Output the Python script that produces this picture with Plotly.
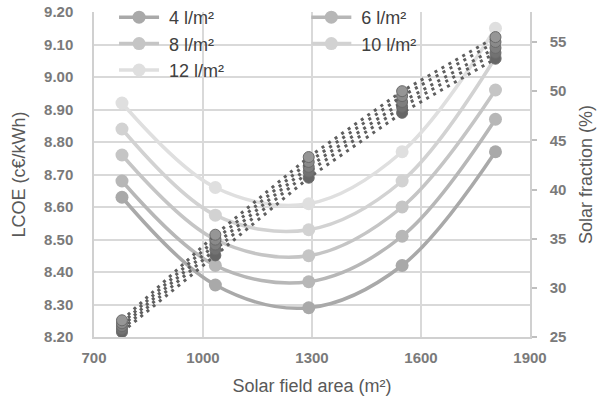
import plotly.graph_objects as go
from plotly.subplots import make_subplots

# ---- data ----
area = [777, 1034, 1291, 1548, 1805]
series_names = ["4 l/m²", "6 l/m²", "8 l/m²", "10 l/m²", "12 l/m²"]
lcoe_4 = [8.63, 8.36, 8.29, 8.42, 8.77]
lcoe_6 = [8.68, 8.42, 8.37, 8.51, 8.87]
lcoe_8 = [8.76, 8.50, 8.45, 8.60, 8.96]
lcoe_10 = [8.84, 8.575, 8.53, 8.68, 9.06]
lcoe_12 = [8.92, 8.66, 8.61, 8.77, 9.15]
sf_4 = [25.5, 33.3, 41.2, 47.8, 53.3]
sf_6 = [25.8, 33.9, 41.8, 48.4, 53.9]
sf_8 = [26.1, 34.4, 42.3, 48.9, 54.4]
sf_10 = [26.4, 34.9, 42.8, 49.5, 55.0]
sf_12 = [26.7, 35.4, 43.3, 50.0, 55.5]
x_ticks = [700, 1000, 1300, 1600, 1900]
lcoe_ticks = [8.2, 8.3, 8.4, 8.5, 8.6, 8.7, 8.8, 8.9, 9.0, 9.1, 9.2]
sf_ticks = [25, 30, 35, 40, 45, 50, 55]

lcoe_all = [lcoe_4, lcoe_6, lcoe_8, lcoe_10, lcoe_12]
sf_all = [sf_4, sf_6, sf_8, sf_10, sf_12]
line_colors = ["#a9a9a9", "#b7b7b7", "#c5c5c5", "#d2d2d2", "#dfdfdf"]
sf_colors = ["#666666", "#727272", "#7e7e7e", "#8a8a8a", "#969696"]
legend_ids = ["legend", "legend2", "legend", "legend2", "legend"]

fig = make_subplots(specs=[[{"secondary_y": True}]])

for name, vals, col, lg in zip(series_names, lcoe_all, line_colors, legend_ids):
    fig.add_trace(go.Scatter(
        x=area, y=vals, name="\u00a0" + name, mode="lines+markers",
        line=dict(color=col, width=3.5, shape="spline", smoothing=1),
        marker=dict(color=col, size=13),
        legend=lg,
    ), secondary_y=False)

for name, vals, col in zip(series_names, sf_all, sf_colors):
    fig.add_trace(go.Scatter(
        x=area, y=vals, name=name + " SF", mode="lines+markers",
        line=dict(color="#5f5f5f", width=3, dash="3px,5px"),
        marker=dict(color=col, size=11, line=dict(color="#6b6b6b", width=1)),
        showlegend=False,
    ), secondary_y=True)

title_font = dict(family="Liberation Sans Narrow, Arial Narrow, sans-serif", size=18, color="#595959")
tick_font = dict(family="Arial, Liberation Sans, sans-serif", size=15, color="#7a7a7a")

def bold(labels):
    return ["<b>" + s + "</b>" for s in labels]

fig.update_xaxes(
    domain=[0, 1],
    range=[700, 1900], tickvals=x_ticks, ticktext=bold([str(v) for v in x_ticks]),
    showgrid=True, gridcolor="#d9d9d9", gridwidth=1.5,
    showline=True, linecolor="#d0d0d0", linewidth=1.5,
    ticks="", tickfont=tick_font, ticklabelstandoff=6,
    title=dict(text="Solar field area (m²)", font=title_font, standoff=15),
    zeroline=False, automargin=False,
)
fig.update_yaxes(
    range=[8.2, 9.2], tickvals=lcoe_ticks, ticktext=bold([f"{v:.2f}" for v in lcoe_ticks]),
    showgrid=True, gridcolor="#d9d9d9", gridwidth=1.5,
    showline=True, linecolor="#d0d0d0", linewidth=1.5,
    ticks="", tickfont=tick_font, ticklabelstandoff=16,
    title=dict(text="LCOE (c€/kWh)", font=title_font, standoff=14),
    zeroline=False, secondary_y=False, automargin=False,
)
fig.update_yaxes(
    range=[25, 58.05], tickvals=sf_ticks, ticktext=bold([str(v) for v in sf_ticks]),
    showgrid=False,
    showline=True, linecolor="#d0d0d0", linewidth=1.5,
    ticks="outside", ticklen=5, tickcolor="#bfbfbf", tickwidth=1.5,
    tickfont=tick_font, ticklabelstandoff=10,
    title=dict(text="Solar fraction (%)", font=title_font, standoff=14),
    zeroline=False, secondary_y=True, automargin=False,
)

legend_font = dict(family="Liberation Sans Narrow, Arial Narrow, sans-serif", size=18, color="#404040")
fig.update_layout(
    width=606, height=409,
    margin=dict(l=94, r=76, t=12, b=72, autoexpand=False),
    paper_bgcolor="white", plot_bgcolor="white",
    legend=dict(x=0.046, y=1.04, xanchor="left", yanchor="top", bgcolor="rgba(0,0,0,0)",
                font=legend_font, tracegroupgap=0, itemwidth=40),
    legend2=dict(x=0.487, y=1.04, xanchor="left", yanchor="top", bgcolor="rgba(0,0,0,0)",
                 font=legend_font, tracegroupgap=0, itemwidth=40),
)

fig.write_html("out.html")
